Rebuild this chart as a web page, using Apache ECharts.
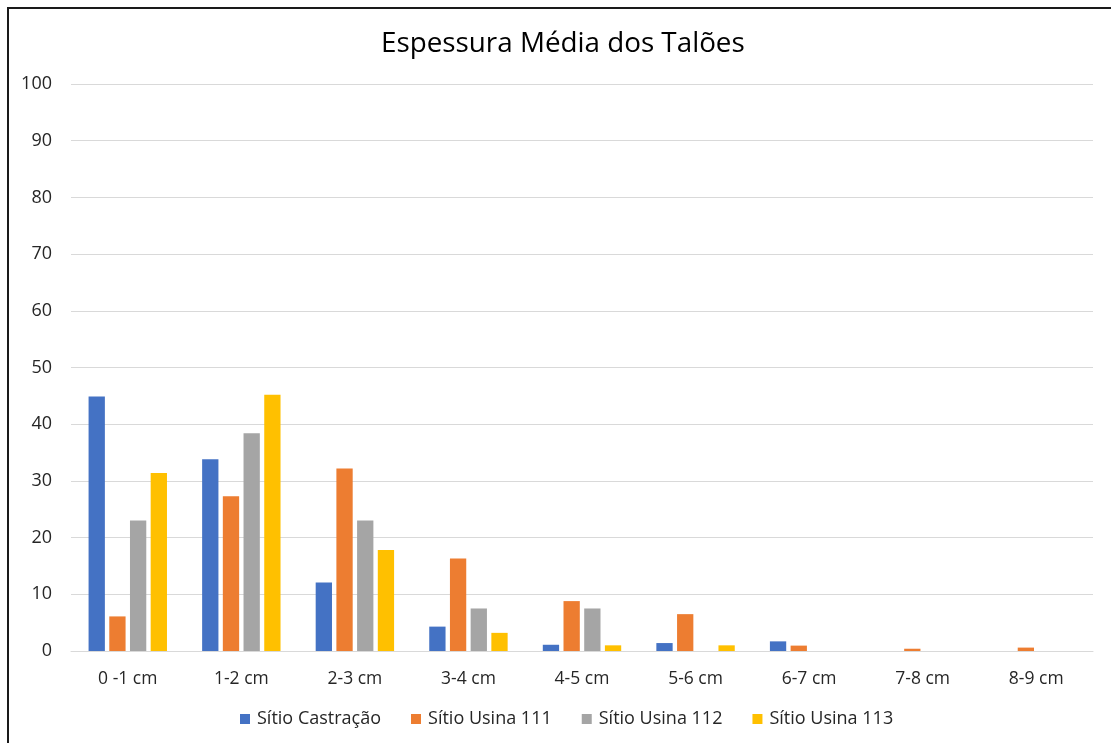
<!DOCTYPE html>
<html>
<head>
<meta charset="utf-8">
<script src="https://cdn.jsdelivr.net/npm/echarts@6/dist/echarts.min.js"></script>
<style>
  html, body { margin: 0; padding: 0; background: #fff; }
  #chart { width: 1111px; height: 743px; }
  #frame {
    position: absolute; left: 7px; top: 7px; width: 1200px; height: 800px;
    border-left: 2px solid #1a1a1a; border-top: 2px solid #1a1a1a;
    box-shadow: -1px -1px 0 #9a9a9a inset; pointer-events: none;
  }
</style>
</head>
<body>
<div id="chart"></div>
<div id="frame"></div>
<script>
// Thickness classes (cm)
const categories = ['0 -1 cm', '1-2 cm', '2-3 cm', '3-4 cm', '4-5 cm', '5-6 cm', '6-7 cm', '7-8 cm', '8-9 cm'];

// Percentage of flakes per thickness class, by site
const sitioCastracao = [44.9, 33.8, 12.1, 4.3, 1.1, 1.4, 1.7, 0, 0];
const sitioUsina111  = [6.1, 27.3, 32.2, 16.3, 8.8, 6.5, 0.95, 0.4, 0.6];
const sitioUsina112  = [23.0, 38.4, 23.0, 7.5, 7.5, 0, 0, 0, 0];
const sitioUsina113  = [31.4, 45.2, 17.8, 3.2, 1.0, 1.0, 0, 0, 0];

const yTicks = [0, 10, 20, 30, 40, 50, 60, 70, 80, 90, 100];

const seriesDefs = [
  { name: 'Sítio Castração', data: sitioCastracao, color: '#4472C4' },
  { name: 'Sítio Usina 111', data: sitioUsina111, color: '#ED7D31' },
  { name: 'Sítio Usina 112', data: sitioUsina112, color: '#A5A5A5' },
  { name: 'Sítio Usina 113', data: sitioUsina113, color: '#FFC000' }
];

const font = 'Open Sans, sans-serif';
const chart = echarts.init(document.getElementById('chart'), null, { renderer: 'canvas' });

chart.setOption({
  backgroundColor: '#ffffff',
  animation: false,
  title: {
    text: 'Espessura Média dos Talões',
    left: 376,
    top: 25,
    textStyle: { fontFamily: font, fontSize: 27.8, fontWeight: 'normal', color: '#000000' }
  },
  legend: {
    bottom: 10,
    left: 235,
    itemWidth: 10,
    itemHeight: 10,
    itemGap: 30,
    icon: 'rect',
    textStyle: { fontFamily: font, fontSize: 18, color: '#262626', padding: [0, 0, 0, 2] },
    data: seriesDefs.map(s => s.name)
  },
  grid: { left: 71, right: 18, top: 84, bottom: 92, containLabel: false },
  xAxis: {
    type: 'category',
    data: categories,
    axisLine: { show: true, lineStyle: { color: '#d9d9d9', width: 1 } },
    axisTick: { show: false },
    axisLabel: { fontFamily: font, fontSize: 17.5, color: '#262626', margin: 19 }
  },
  yAxis: {
    type: 'value',
    min: yTicks[0],
    max: yTicks[yTicks.length - 1],
    interval: yTicks[1] - yTicks[0],
    axisLine: { show: false },
    axisTick: { show: false },
    splitLine: { lineStyle: { color: '#d9d9d9', width: 1 } },
    axisLabel: { fontFamily: font, fontSize: 18, color: '#262626', margin: 19 }
  },
  series: seriesDefs.map(s => ({
    name: s.name,
    type: 'bar',
    data: s.data,
    barWidth: 16.3,
    barGap: '27%',
    itemStyle: { color: s.color }
  }))
});
</script>
</body>
</html>
